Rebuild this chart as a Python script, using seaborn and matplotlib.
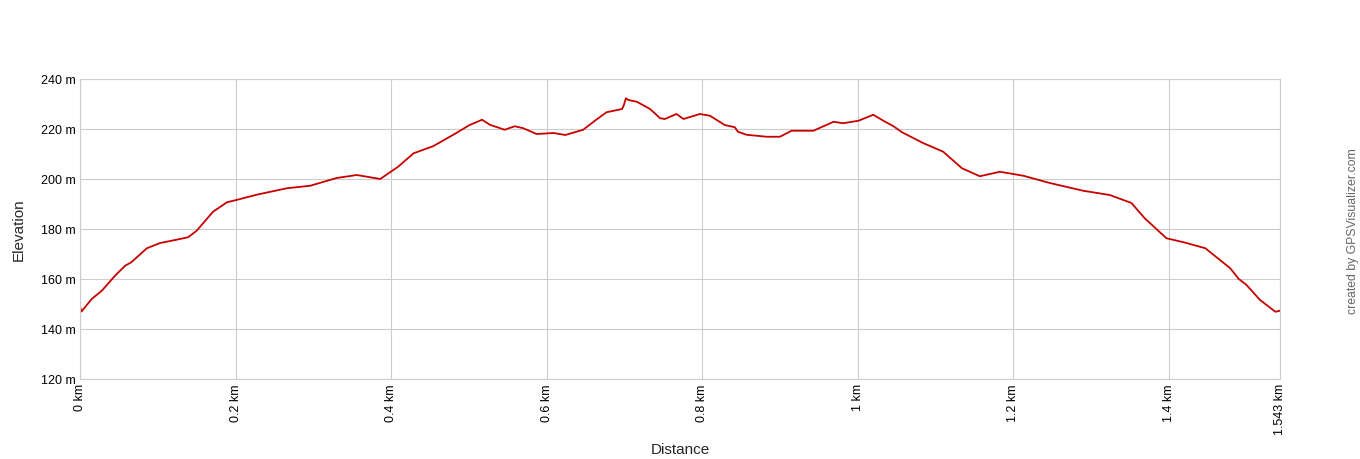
import pandas as pd
import matplotlib
matplotlib.use('Agg')
import matplotlib.pyplot as plt
import seaborn as sns

# elevation profile (km, m)
distance_km = [0.000, 0.000, 0.002, 0.015, 0.028, 0.045, 0.058, 0.066, 0.086, 0.103,
               0.124, 0.139, 0.150, 0.171, 0.189, 0.201, 0.227, 0.266, 0.296, 0.330,
               0.356, 0.386, 0.409, 0.429, 0.454, 0.480, 0.501, 0.517, 0.527, 0.546,
               0.559, 0.570, 0.587, 0.609, 0.624, 0.647, 0.662, 0.677, 0.697, 0.699,
               0.702, 0.705, 0.716, 0.733, 0.746, 0.752, 0.767, 0.776, 0.797, 0.810,
               0.829, 0.842, 0.846, 0.857, 0.883, 0.900, 0.915, 0.943, 0.969, 0.981,
               1.001, 1.020, 1.033, 1.046, 1.057, 1.084, 1.110, 1.134, 1.157, 1.183,
               1.213, 1.247, 1.290, 1.324, 1.352, 1.369, 1.397, 1.419, 1.447, 1.479,
               1.490, 1.500, 1.517, 1.537, 1.543]
elevation_m = [151.3, 146.4, 147.0, 152.0, 155.3, 161.3, 165.3, 166.7, 172.3, 174.4,
               175.7, 176.7, 179.3, 186.9, 190.7, 191.6, 193.7, 196.3, 197.3, 200.4,
               201.6, 200.0, 204.9, 210.3, 213.1, 217.7, 221.6, 223.7, 221.7, 219.7,
               221.1, 220.3, 218.0, 218.4, 217.6, 219.7, 223.3, 226.7, 228.0, 229.3,
               232.3, 231.6, 230.9, 228.0, 224.3, 224.0, 226.0, 224.0, 226.0, 225.3,
               221.6, 220.7, 218.9, 217.7, 216.9, 216.9, 219.3, 219.3, 222.9, 222.3,
               223.3, 225.7, 223.3, 221.1, 218.7, 214.4, 210.9, 204.3, 201.1, 202.9,
               201.3, 198.4, 195.3, 193.6, 190.4, 184.3, 176.3, 174.7, 172.3, 164.3,
               160.0, 157.6, 151.7, 146.9, 147.3]

x_ticks = [0, 0.2, 0.4, 0.6, 0.8, 1.0, 1.2, 1.4, 1.543]
x_labels = ['0 km', '0.2 km', '0.4 km', '0.6 km', '0.8 km', '1 km', '1.2 km', '1.4 km', '1.543 km']
y_ticks = [120, 140, 160, 180, 200, 220, 240]
y_labels = ['120 m', '140 m', '160 m', '180 m', '200 m', '220 m', '240 m']

profile = pd.DataFrame({'distance': distance_km, 'elevation': elevation_m})

sns.set_style('white')
plt.rcParams['font.family'] = ['Liberation Sans', 'DejaVu Sans']

fig = plt.figure(figsize=(13.6, 4.6), dpi=100)
ax = fig.add_axes([80 / 1360, 1 - 380 / 460, 1200 / 1360, 300 / 460])

sns.lineplot(data=profile, x='distance', y='elevation', sort=False,
             color='#c80000', linewidth=1.3, ax=ax)

ax.set_xlim(0, 1.543)
ax.set_ylim(120, 240)
ax.set_xticks(x_ticks)
ax.set_xticklabels(x_labels, rotation=90, fontsize=9)
ax.set_yticks(y_ticks)
ax.set_yticklabels(y_labels, fontsize=9)
ax.tick_params(length=0, pad=3, colors='black')
ax.grid(True, color='#cccccc', linewidth=0.8)
ax.set_axisbelow(True)
for s in ax.spines.values():
    s.set_color('#cccccc')
    s.set_linewidth(0.8)

ax.set_xlabel('')
ax.set_ylabel('')
fig.text(680 / 1360, 1 - 450 / 460, 'Distance', ha='center', va='center', fontsize=11)
fig.text(19 / 1360, 1 - 230 / 460, 'Elevation', ha='center', va='center',
         rotation=90, fontsize=11)
fig.text(1353 / 1360, 1 - 231 / 460, 'created by GPSVisualizer.com', ha='center',
         va='center', rotation=90, fontsize=8.8, color='#666666')

fig.savefig('out.png', dpi=100)
